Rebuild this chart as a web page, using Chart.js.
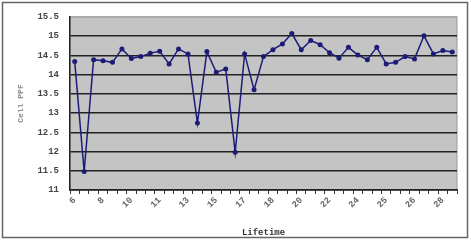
<!DOCTYPE html>
<html>
<head>
<meta charset="utf-8">
<script src="https://cdn.jsdelivr.net/npm/chart.js@4"></script>
<style>
  html, body { margin: 0; padding: 0; background: #fff; }
  canvas { display: block; }
</style>
</head>
<body>
<canvas id="pprChart" width="471" height="243"></canvas>
<script>
    // Дані: 41 точка, підпис на кожній третій
    const lifetimes = [];
    for (let i = 1; i <= 41; i++) lifetimes.push(String(i));
    const xTickLabels = ['6', '8', '10', '11', '13', '15', '17', '18', '20', '22', '24', '25', '26', '28'];
    const cellPPF = [
        14.34, 11.48, 14.39, 14.36, 14.32, 14.67, 14.42, 14.47, 14.56, 14.61,
        14.28, 14.67, 14.54, 12.74, 14.60, 14.06, 14.15, 11.98, 14.54, 13.61,
        14.47, 14.65, 14.80, 15.07, 14.65, 14.89, 14.78, 14.57, 14.43, 14.71,
        14.51, 14.39, 14.71, 14.28, 14.32, 14.47, 14.41, 15.01, 14.54, 14.63,
        14.59
    ];
    const yTicks = [11, 11.5, 12, 12.5, 13, 13.5, 14, 14.5, 15, 15.5];

    const tickFont = { family: 'Liberation Mono', size: 9, weight: 'bold' };

    // Фон області графіка та рамка
    const framePlugin = {
        id: 'frame',
        beforeDraw(chart) {
            const c = chart.ctx, a = chart.chartArea;
            c.save();
            c.fillStyle = '#fff';
            c.fillRect(0, 0, chart.width, chart.height);
            c.strokeStyle = '#666';
            c.lineWidth = 1.5;
            c.strokeRect(2.5, 2.5, 465, 235);
            c.fillStyle = '#c4c4c4';
            c.fillRect(a.left, a.top, a.right - a.left, a.bottom - a.top);
            c.strokeStyle = '#999';
            c.lineWidth = 1;
            c.strokeRect(a.left, a.top, a.right - a.left, a.bottom - a.top);
            c.restore();
        }
    };

    const config = {
        type: 'line',
        data: {
            labels: lifetimes,
            datasets: [{
                label: 'Cell PPF',
                data: cellPPF,
                borderColor: '#1c1c78',
                backgroundColor: '#1c1c78',
                borderWidth: 1.5,
                pointRadius: 2.5,
                pointBorderWidth: 0,
                tension: 0
            }]
        },
        options: {
            responsive: false,
            animation: false,
            devicePixelRatio: 1,
            layout: { padding: { left: 16, right: 14, top: 17, bottom: 5 } },
            plugins: {
                legend: { display: false },
                tooltip: { enabled: false }
            },
            scales: {
                x: {
                    offset: true,
                    afterFit: function (scale) { scale.height = 48; },
                    grid: {
                        offset: true,
                        drawOnChartArea: false,
                        tickLength: 4,
                        color: '#333'
                    },
                    border: { color: '#222', width: 1.5 },
                    ticks: {
                        autoSkip: false,
                        minRotation: 45,
                        maxRotation: 45,
                        padding: 1,
                        color: '#666',
                        font: tickFont,
                        callback: function (value, index) {
                            return index % 3 === 0 ? xTickLabels[index / 3] : '';
                        }
                    },
                    title: {
                        display: true,
                        text: 'Lifetime',
                        color: '#333',
                        font: tickFont,
                        padding: { top: 0, bottom: 0 }
                    }
                },
                y: {
                    min: 11,
                    max: 15.5,
                    afterFit: function (scale) { scale.width = 54; },
                    afterBuildTicks: function (scale) {
                        scale.ticks = yTicks.map(v => ({ value: v }));
                    },
                    grid: {
                        drawTicks: false,
                        lineWidth: 1.5,
                        color: ctx => (ctx.tick && ctx.tick.value === 15.5) ? '#aaa' : '#222'
                    },
                    border: { color: '#222', width: 1.5 },
                    ticks: {
                        padding: 11,
                        color: '#444',
                        font: tickFont,
                        callback: value => String(value)
                    },
                    title: {
                        display: true,
                        text: 'Cell PPF',
                        color: '#888',
                        font: { family: 'Liberation Mono', size: 8, weight: 'bold' },
                        padding: { top: 0, bottom: 0 }
                    }
                }
            }
        },
        plugins: [framePlugin]
    };

    const ctx = document.getElementById('pprChart').getContext('2d');
    new Chart(ctx, config);
</script>
</body>
</html>
